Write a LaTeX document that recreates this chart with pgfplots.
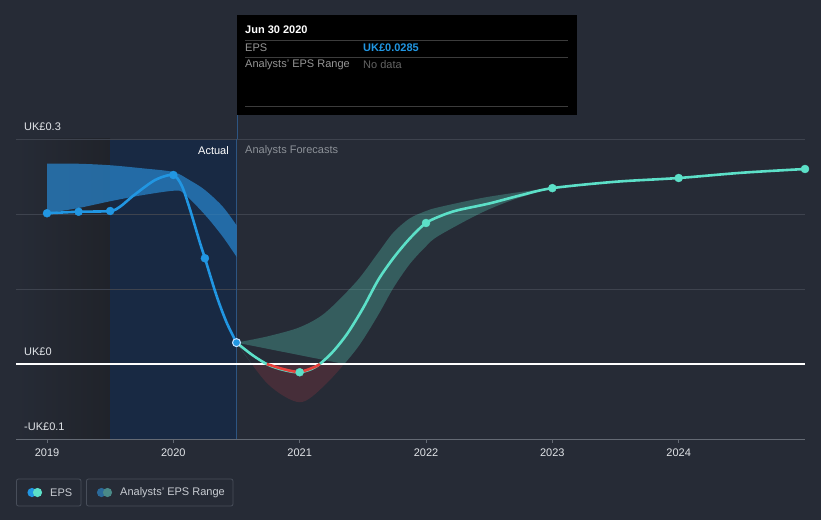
\documentclass[border=0pt]{standalone}
\usepackage{pgfplots}
\pgfplotsset{compat=1.18}
\usepackage{pgfplotstable}
\usepgfplotslibrary{fillbetween}
\usepackage{fontspec}
\setmainfont{Liberation Sans}

\definecolor{bg}{RGB}{38,43,54}
\definecolor{darkreg}{RGB}{32,35,42}
\definecolor{bluereg}{RGB}{24,41,67}
\definecolor{gridc}{RGB}{62,67,78}
\definecolor{axisc}{RGB}{100,106,116}
\definecolor{epsblue}{RGB}{33,150,226}
\definecolor{bandblue}{RGB}{40,130,200}
\definecolor{tealc}{RGB}{92,224,200}
\definecolor{redc}{RGB}{200,60,70}
\definecolor{redline}{RGB}{232,65,60}
\definecolor{vline}{RGB}{45,85,130}
\definecolor{labc}{RGB}{225,228,232}
\definecolor{fadec}{RGB}{140,145,152}
\definecolor{legc}{RGB}{200,204,210}
\definecolor{legbox}{RGB}{72,78,90}
\definecolor{ttline}{RGB}{60,60,60}
\definecolor{ttgray}{RGB}{150,150,150}
\definecolor{ttdark}{RGB}{100,100,100}
\definecolor{ringc}{RGB}{200,225,255}
\definecolor{legblue}{RGB}{43,106,154}
\definecolor{legteal}{RGB}{74,138,136}
\pagecolor{bg}

% actual EPS, main points
\pgfplotstableread{
x y
2019 0.201
2019.25 0.203
2019.5 0.204
2020 0.252
2020.25 0.141
2020.5 0.0285
}\actual

\pgfplotstableread{
x y
2019 0.201
2019.25 0.203
2019.5 0.204
2019.58 0.210
2019.68 0.224
2019.815 0.241
2019.89 0.248
2020 0.252
2020.066 0.238
2020.13 0.207
2020.21 0.162
2020.25 0.141
2020.34 0.092
2020.42 0.056
2020.5 0.0285
}\actualline

\pgfplotstableread{
x y
2019 0.267
2019.25 0.267
2019.5 0.265
2019.75 0.261
2020 0.256
2020.13 0.245
2020.25 0.232
2020.39 0.210
2020.5 0.185
}\actualup

\pgfplotstableread{
x y
2019 0.201
2019.25 0.208
2019.5 0.217
2019.75 0.225
2020 0.231
2020.08 0.228
2020.25 0.199
2020.39 0.170
2020.5 0.143
}\actuallo

\pgfplotstableread{
x y
2020.5 0.0285
2020.75 0.037
2021 0.049
2021.2 0.068
2021.45 0.110
2021.62 0.148
2021.74 0.175
2021.87 0.194
2022 0.204
2022.1 0.209
2022.43 0.221
2022.69 0.228
2023 0.235
}\fup

\pgfplotstableread{
x y
2020.5 0.0285
2020.75 -0.027
2021 -0.051
2021.2 -0.028
2021.45 0.020
2021.62 0.065
2021.74 0.101
2021.87 0.133
2022 0.157
2022.1 0.171
2022.43 0.201
2022.69 0.219
2023 0.235
}\flo

\pgfplotstableread{
x y
2020.5 0.0285
2020.625 0.012
2020.75 -0.001
2020.875 -0.008
2021 -0.011
2021.125 -0.004
2021.25 0.014
2021.375 0.040
2021.5 0.074
2021.625 0.113
2021.75 0.143
2021.875 0.168
2022 0.188
2022.125 0.198
2022.25 0.205
2022.5 0.214
2022.75 0.225
2023 0.2345
2023.5 0.243
2024 0.248
2024.5 0.255
2025 0.260
}\forecast

\pgfplotstableread{
x y
2020.74 0.0
2020.875 -0.007
2021 -0.0105
2021.125 -0.0035
2021.16 0.0
}\redpart

\pgfplotstableread{
x y
2021 -0.011
2022 0.188
2023 0.2345
2024 0.248
2025 0.260
}\fmarks

\begin{document}
\begin{tikzpicture}[x=1pt,y=1pt]
\begin{axis}[
  at={(16pt,81pt)}, anchor=south west,
  scale only axis, width=789pt, height=300pt,
  xmin=2018.7546, xmax=2025, ymin=-0.1, ymax=0.3,
  axis x line*=bottom, axis y line=none,
  x axis line style={draw=axisc, line width=0.8pt, -},
  xtick={2019,2020,2021,2022,2023,2024},
  xticklabels={2019,2020,2021,2022,2023,2024},
  xtick style={draw=axisc, line width=0.8pt},
  major tick length=4pt, tick align=outside,
  xticklabel style={font=\fontsize{11}{13}\selectfont, text=labc, inner sep=0pt, anchor=north, yshift=-6pt},
  ytick=\empty,
  clip=true,
]
\addplot[on layer=axis background, draw=none, left color=bg, right color=darkreg] coordinates {(2018.7546,-0.1) (2019.5,-0.1) (2019.5,0.3) (2018.7546,0.3)};
\addplot[on layer=axis background, draw=none, fill=bluereg] coordinates {(2019.5,-0.1) (2020.5,-0.1) (2020.5,0.3) (2019.5,0.3)};
\addplot[on layer=axis background, gridc, line width=0.8pt] coordinates {(2018.7546,0.1) (2025,0.1)};
\addplot[on layer=axis background, gridc, line width=0.8pt] coordinates {(2018.7546,0.2) (2025,0.2)};
\addplot[on layer=axis background, gridc, line width=1pt] coordinates {(2018.7546,0.2995) (2025,0.2995)};
\addplot[on layer=axis background, vline, line width=0.8pt] coordinates {(2020.5,-0.1) (2020.5,0.3)};

\addplot[draw=none, name path=AU, smooth] table {\actualup};
\addplot[draw=none, name path=AL, smooth] table {\actuallo};
\addplot[fill=bandblue, fill opacity=0.75, draw=none] fill between[of=AU and AL];

\addplot[draw=none, name path=FU, smooth] table {\fup};
\addplot[draw=none, name path=FL, smooth] table {\flo};
\addplot[draw=none, name path=Z] coordinates {(2020.5,0) (2023,0)};
\addplot[fill=tealc, fill opacity=0.28, draw=none] fill between[of=FU and FL, soft clip={domain y=0:0.3}];
\addplot[fill=redc, fill opacity=0.2, draw=none] fill between[of=Z and FL, soft clip={domain=2020.63:2021.34}];

\addplot[white, line width=1.1pt] coordinates {(2018.7546,0) (2025,0)};

\addplot[tealc, line width=2.6pt, smooth] table {\forecast};
\addplot[redline, line width=2.6pt, smooth] table {\redpart};
\addplot[epsblue, line width=2.6pt, smooth] table {\actualline};

\addplot[only marks, mark=*, mark size=4pt, epsblue] table {\actual};
\addplot[only marks, mark=*, mark size=4pt, tealc] table {\fmarks};
\addplot[only marks, mark=*, mark size=4pt, mark options={fill=epsblue, draw=ringc, line width=1pt}] coordinates {(2020.5,0.0285)};
\end{axis}

\draw[vline, line width=0.8pt] (237,381) -- (237,405);

% y labels
\node[anchor=west, text=labc, font=\fontsize{11}{13}\selectfont, inner sep=0pt] at (24,393) {UK£0.3};
\node[anchor=west, text=labc, font=\fontsize{11}{13}\selectfont, inner sep=0pt] at (24,168) {UK£0};
\node[anchor=west, text=labc, font=\fontsize{11}{13}\selectfont, inner sep=0pt] at (24,93) {-UK£0.1};

% region labels
\node[anchor=east, text=white, font=\fontsize{11}{13}\selectfont, inner sep=0pt] at (229,369) {Actual};
\node[anchor=west, text=fadec, font=\fontsize{11}{13}\selectfont, inner sep=0pt] at (245,369) {Analysts Forecasts};

% tooltip
\fill[black] (237,405) rectangle (577,505);
\node[anchor=west, text=white, font=\bfseries\fontsize{11}{13}\selectfont, inner sep=0pt] at (245,490) {Jun 30 2020};
\draw[ttline, line width=0.8pt] (245,480) -- (568,480);
\node[anchor=west, text=ttgray, font=\fontsize{11}{13}\selectfont, inner sep=0pt] at (245,472) {EPS};
\node[anchor=west, text=epsblue, font=\bfseries\fontsize{11}{13}\selectfont, inner sep=0pt] at (363,472) {UK£0.0285};
\draw[ttline, line width=0.8pt] (245,463) -- (568,463);
\node[anchor=west, text=ttgray, font=\fontsize{11}{13}\selectfont, inner sep=0pt] at (245,455) {Analysts' EPS Range};
\node[anchor=west, text=ttdark, font=\fontsize{11}{13}\selectfont, inner sep=0pt] at (363,455) {No data};
\draw[ttline, line width=0.8pt] (245,414) -- (568,414);

% legend
\draw[legbox, line width=0.8pt, rounded corners=2pt] (16.5,14) rectangle (81,41);
\fill[epsblue] (32,27.5) circle (4.6);
\fill[tealc] (37.5,27.5) circle (4.6);
\node[anchor=west, text=legc, font=\fontsize{11}{13}\selectfont, inner sep=0pt] at (50,27.5) {EPS};
\draw[legbox, line width=0.8pt, rounded corners=2pt] (86.5,14) rectangle (233,41);
\fill[legblue] (101.5,27.5) circle (4.6);
\fill[legteal] (107.5,27.5) circle (4.6);
\node[anchor=west, text=legc, font=\fontsize{11}{13}\selectfont, inner sep=0pt] at (120,27.5) {Analysts' EPS Range};

\pgfresetboundingbox
\useasboundingbox (0,0) rectangle (821,520);
\end{tikzpicture}
\end{document}
